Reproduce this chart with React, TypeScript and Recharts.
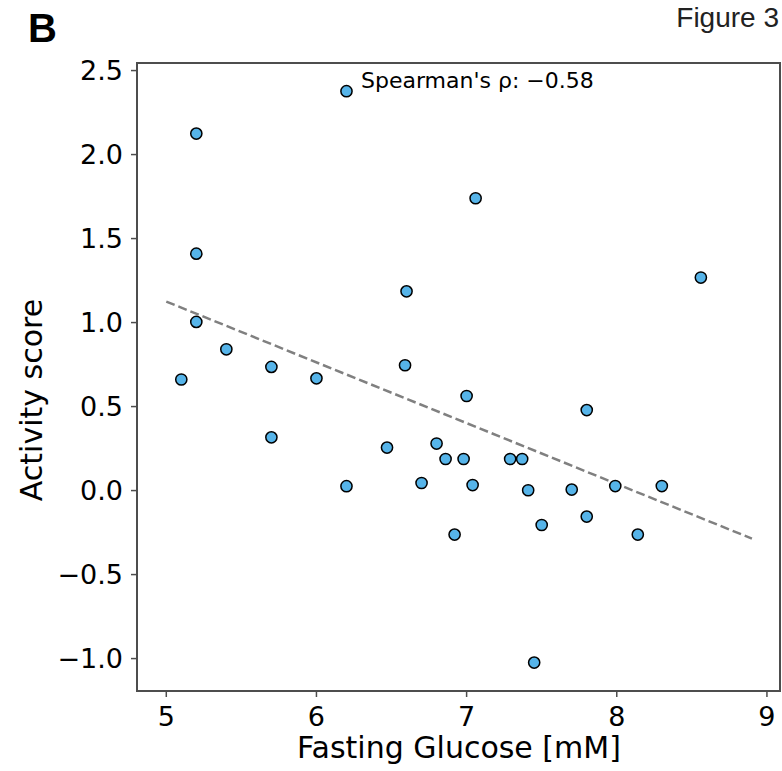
import { ReferenceArea, Scatter, ScatterChart, XAxis, YAxis } from 'recharts';

// Fasting glucose [mM] and activity score
const glucose = [5.2, 6.2, 5.2, 5.2, 5.1, 5.4, 5.7, 5.7, 6.0, 6.2, 6.6, 6.59, 6.47, 6.8, 6.86, 6.7, 6.92, 6.98, 7.0, 7.04, 7.06, 7.29, 7.37, 7.41, 7.5, 7.45, 7.7, 7.8, 7.8, 7.99, 8.14, 8.3, 8.56];
const activity = [2.125, 2.377, 1.41, 1.004, 0.661, 0.841, 0.736, 0.317, 0.668, 0.026, 1.186, 0.746, 0.256, 0.28, 0.188, 0.045, -0.262, 0.188, 0.563, 0.033, 1.74, 0.188, 0.188, 0.002, -0.205, -1.024, 0.006, 0.479, -0.155, 0.027, -0.262, 0.027, 1.268];

// dashed trend line end points
const fitX = [5.0, 8.9];
const fitY = [1.125, -0.286];

const xTicks = [5, 6, 7, 8, 9];
const yTicks = [-1, -0.5, 0, 0.5, 1, 1.5, 2, 2.5];
const xDomain = [4.805, 9.087];
const yDomain = [-1.193, 2.545];

const points = glucose.map((x, i) => ({ x, y: activity[i] }));
const fit = fitX.map((x, i) => ({ x, y: fitY[i] }));

const FONT = '"DejaVu Sans", sans-serif';
const SPINE = '#4d4d4d';
const tickStyle = { fontSize: 27, fill: '#000', fontFamily: FONT };

const fmtY = (v: number) => v.toFixed(1).replace('-', '\u2212');

const Dot = (props: any) => (
  <circle cx={props.cx} cy={props.cy} r={5.6} fill="#56B4E9" stroke="#000" strokeWidth={1.5} />
);

export default function App() {
  return (
    <div style={{ position: 'absolute', left: 0, top: 0, width: 782, height: 771, background: '#fff' }}>
      <ScatterChart width={782} height={771} margin={{ top: 63, right: 2, bottom: 0, left: 0 }}>
        <XAxis
          type="number"
          dataKey="x"
          domain={xDomain}
          ticks={xTicks}
          allowDataOverflow
          height={80}
          tick={tickStyle}
          tickSize={6}
          tickMargin={10}
          axisLine={{ stroke: SPINE, strokeWidth: 2 }}
          tickLine={{ stroke: SPINE, strokeWidth: 1.5 }}
        />
        <YAxis
          type="number"
          dataKey="y"
          domain={yDomain}
          ticks={yTicks}
          allowDataOverflow
          width={137}
          tick={tickStyle}
          tickFormatter={fmtY}
          tickSize={6}
          tickMargin={8}
          axisLine={{ stroke: SPINE, strokeWidth: 2 }}
          tickLine={{ stroke: SPINE, strokeWidth: 1.5 }}
        />
        <ReferenceArea
          x1={xDomain[0]}
          x2={xDomain[1]}
          y1={yDomain[0]}
          y2={yDomain[1]}
          fill="none"
          fillOpacity={0}
          stroke={SPINE}
          strokeWidth={2}
          ifOverflow="visible"
        />
        <Scatter
          data={fit}
          line={{ stroke: '#808080', strokeWidth: 2.5, strokeDasharray: '9 4' }}
          shape={() => <g />}
          isAnimationActive={false}
        />
        <Scatter data={points} shape={Dot} isAnimationActive={false} />
      </ScatterChart>
      <svg width={782} height={771} style={{ position: 'absolute', left: 0, top: 0, pointerEvents: 'none' }}>
        <text x={28} y={42} fontFamily='"Liberation Sans", Arial, sans-serif' fontWeight="bold" fontSize={40}>B</text>
        <text x={779} y={27} textAnchor="end" fontFamily='"Liberation Sans", Arial, sans-serif' fontSize={28} fill="#222">Figure 3</text>
        <text x={361} y={88} fontFamily={FONT} fontSize={22}>Spearman's ρ: −0.58</text>
        <text x={459} y={758} textAnchor="middle" fontFamily={FONT} fontSize={30}>Fasting Glucose [mM]</text>
        <text transform="translate(42,400) rotate(-90)" textAnchor="middle" fontFamily={FONT} fontSize={30}>Activity score</text>
      </svg>
    </div>
  );
}
